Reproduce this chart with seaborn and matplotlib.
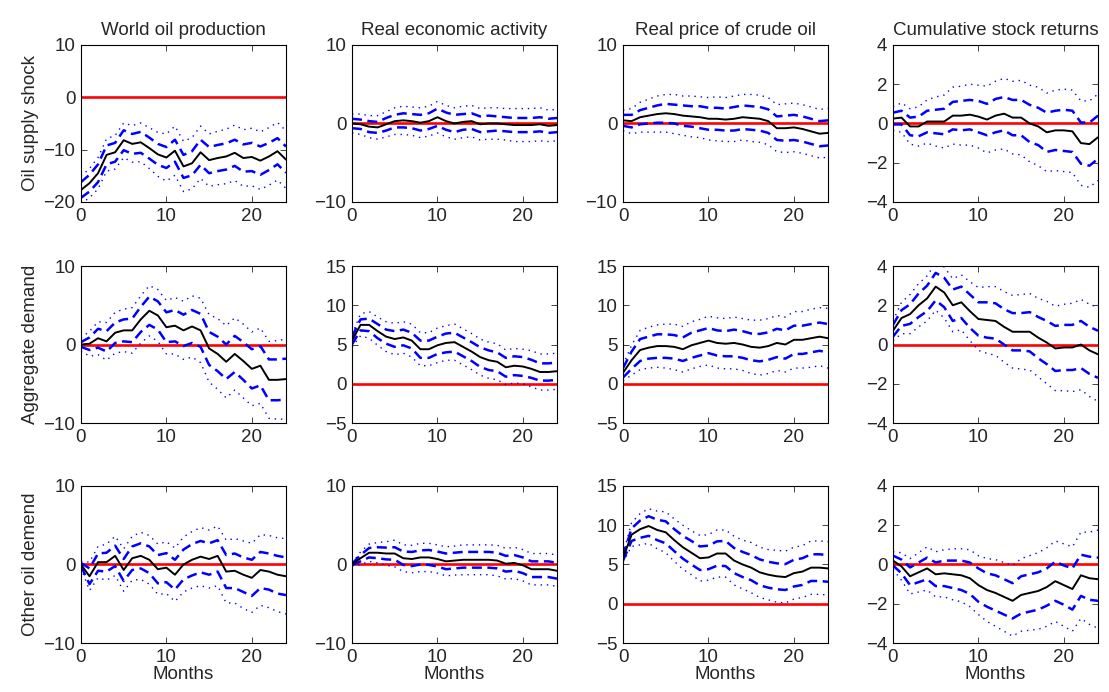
import numpy as np
import pandas as pd
import seaborn as sns
import matplotlib
matplotlib.use("Agg")
import matplotlib.pyplot as plt

# horizon
months = np.arange(25)

col_titles = ["World oil production", "Real economic activity",
              "Real price of crude oil", "Cumulative stock returns"]
row_labels = ["Oil supply shock", "Aggregate demand", "Other oil demend"]
row_ylims = [[(-20, 10), (-10, 10), (-10, 10), (-4, 4)],
             [(-10, 10), (-5, 15), (-5, 15), (-4, 4)],
             [(-10, 10), (-10, 10), (-5, 15), (-4, 4)]]

# ----- Oil supply shock -----
sup_prod = [-17.7, -16.4, -14.5, -11.0, -10.5, -8.2, -8.9, -8.6, -9.7, -10.9, -11.5, -10.2, -13.2,
            -12.6, -10.5, -12.0, -11.6, -11.3, -10.6, -11.6, -11.4, -12.1, -11.3, -10.3, -11.9]
sup_prod_d1 = [1.5, 1.6, 1.7, 1.8, 1.8, 1.9, 1.9, 2.0, 2.0, 2.0, 2.0, 2.1, 2.2,
               2.3, 2.4, 2.5, 2.5, 2.5, 2.5, 2.6, 2.7, 2.7, 2.6, 2.5, 2.5]
sup_prod_d2 = [2.6, 2.8, 3.0, 3.1, 3.2, 3.3, 3.5, 3.7, 3.9, 4.2, 4.5, 4.7, 4.8,
               4.9, 5.0, 5.0, 5.1, 5.2, 5.3, 5.4, 5.5, 5.5, 5.5, 5.5, 5.5]

sup_rea = [0.0, -0.1, -0.4, -0.5, -0.1, 0.3, 0.4, 0.3, 0.1, 0.3, 0.8, 0.3, 0.0,
           0.2, 0.3, -0.1, 0.0, 0.0, -0.1, -0.2, -0.2, -0.2, -0.1, -0.3, -0.2]
sup_rea_d1 = [0.6, 0.6, 0.7, 0.7, 0.8, 0.8, 0.9, 0.9, 1.0, 1.0, 1.1, 1.1, 1.1,
              1.0, 1.0, 1.0, 1.0, 0.9, 0.9, 0.9, 0.9, 0.9, 0.9, 0.9, 0.9]
sup_rea_d2 = [1.2, 1.3, 1.4, 1.5, 1.6, 1.7, 1.8, 1.8, 1.9, 1.9, 2.0, 2.0, 2.0,
              2.0, 2.0, 2.0, 2.0, 2.0, 2.0, 2.1, 2.1, 2.1, 2.1, 2.0, 2.0]

sup_price = [0.4, 0.3, 0.8, 1.0, 1.2, 1.3, 1.2, 1.0, 0.9, 0.8, 0.6, 0.6, 0.5,
             0.6, 0.8, 0.7, 0.6, 0.3, -0.6, -0.6, -0.5, -0.7, -1.0, -1.3, -1.2]
sup_price_d1 = [0.7, 0.8, 0.9, 1.0, 1.1, 1.2, 1.2, 1.3, 1.3, 1.4, 1.4, 1.4, 1.4,
                1.5, 1.5, 1.5, 1.5, 1.5, 1.5, 1.6, 1.6, 1.6, 1.6, 1.6, 1.6]
sup_price_d2 = [1.3, 1.6, 1.9, 2.1, 2.3, 2.4, 2.5, 2.5, 2.6, 2.6, 2.7, 2.8, 2.8,
                2.9, 2.9, 3.0, 3.0, 3.0, 3.0, 3.1, 3.1, 3.1, 3.1, 3.1, 3.1]

sup_stock = [0.25, 0.3, -0.15, -0.15, 0.1, 0.1, 0.1, 0.4, 0.4, 0.45, 0.35, 0.2, 0.4,
             0.5, 0.3, 0.3, 0.0, -0.15, -0.45, -0.35, -0.35, -0.4, -1.0, -1.05, -0.7]
sup_stock_d1 = [0.3, 0.35, 0.45, 0.5, 0.55, 0.6, 0.65, 0.7, 0.75, 0.75, 0.8, 0.8, 0.85,
                0.85, 0.9, 0.9, 0.95, 0.95, 1.0, 1.0, 1.05, 1.05, 1.05, 1.1, 1.1]
sup_stock_d2 = [0.6, 0.75, 0.9, 1.0, 1.1, 1.25, 1.35, 1.45, 1.5, 1.55, 1.6, 1.7, 1.75,
                1.8, 1.85, 1.9, 1.95, 2.0, 2.0, 2.05, 2.1, 2.1, 2.15, 2.2, 2.2]

# ----- Aggregate demand shock -----
agg_prod = [0.0, 0.1, 0.8, 0.4, 1.5, 1.8, 1.8, 3.2, 4.3, 3.7, 2.2, 2.4, 1.8,
            2.3, 1.8, -0.5, -1.2, -2.2, -1.2, -2.1, -3.1, -2.7, -4.5, -4.5, -4.4]
agg_prod_d1 = [0.3, 0.8, 1.2, 1.3, 1.3, 1.4, 1.5, 1.6, 1.8, 1.8, 1.9, 2.0, 2.0,
               2.1, 2.1, 2.1, 2.2, 2.2, 2.3, 2.4, 2.5, 2.5, 2.6, 2.6, 2.6]
agg_prod_d2 = [0.8, 1.6, 2.1, 2.4, 2.6, 2.7, 2.9, 3.0, 3.2, 3.3, 3.4, 3.6, 3.7,
               3.9, 4.1, 4.3, 4.5, 4.6, 4.6, 4.7, 4.7, 4.8, 4.9, 5.0, 5.1]

agg_rea = [5.5, 7.5, 7.5, 6.7, 6.0, 5.7, 5.9, 5.5, 4.4, 4.4, 4.9, 5.2, 5.3,
           4.7, 4.1, 3.4, 3.0, 2.8, 2.1, 2.3, 2.2, 1.9, 1.5, 1.5, 1.6]
agg_rea_d1 = [0.5, 0.7, 0.8, 0.9, 0.9, 1.0, 1.0, 1.0, 1.1, 1.1, 1.1, 1.2, 1.2,
              1.2, 1.2, 1.25, 1.25, 1.2, 1.2, 1.2, 1.2, 1.15, 1.1, 1.1, 1.1]
agg_rea_d2 = [0.8, 1.4, 1.7, 1.8, 1.9, 2.0, 2.0, 2.1, 2.1, 2.1, 2.2, 2.2, 2.3,
              2.3, 2.3, 2.3, 2.3, 2.3, 2.2, 2.2, 2.2, 2.3, 2.3, 2.3, 2.3]

agg_price = [1.4, 3.0, 4.3, 4.6, 4.8, 4.8, 4.7, 4.4, 4.9, 5.2, 5.5, 5.2, 5.1,
             5.2, 5.0, 4.7, 4.6, 4.8, 5.2, 5.0, 5.6, 5.6, 5.8, 6.0, 5.8]
agg_price_d1 = [0.6, 1.1, 1.4, 1.4, 1.5, 1.5, 1.5, 1.5, 1.6, 1.6, 1.6, 1.6, 1.6,
                1.7, 1.7, 1.7, 1.75, 1.75, 1.8, 1.8, 1.8, 1.8, 1.8, 1.8, 1.8]
agg_price_d2 = [1.0, 1.9, 2.5, 2.6, 2.7, 2.8, 2.9, 2.9, 3.0, 3.0, 3.1, 3.2, 3.2,
                3.3, 3.3, 3.4, 3.5, 3.5, 3.5, 3.5, 3.6, 3.6, 3.7, 3.7, 3.8]

agg_stock = [0.7, 1.35, 1.55, 2.0, 2.35, 2.95, 2.65, 2.0, 2.15, 1.7, 1.3, 1.25, 1.2,
             0.9, 0.65, 0.65, 0.65, 0.35, 0.1, -0.2, -0.15, -0.15, 0.0, -0.3, -0.5]
agg_stock_d1 = [0.3, 0.4, 0.5, 0.6, 0.65, 0.7, 0.75, 0.8, 0.8, 0.85, 0.85, 0.9, 0.9,
                0.9, 0.95, 0.95, 1.0, 1.05, 1.1, 1.15, 1.15, 1.15, 1.2, 1.2, 1.2]
agg_stock_d2 = [0.5, 0.8, 1.0, 1.1, 1.15, 1.2, 1.3, 1.35, 1.4, 1.5, 1.6, 1.7, 1.75,
                1.8, 1.85, 1.9, 1.95, 2.0, 2.1, 2.15, 2.2, 2.25, 2.3, 2.35, 2.4]

# ----- Other oil demand shock -----
oth_prod = [0.0, -1.5, 0.3, 0.3, 1.1, -0.7, 0.8, 1.1, 0.6, -0.6, -0.4, -1.3, 0.0,
            0.6, 1.0, 0.7, 1.1, -0.9, -0.8, -1.3, -1.7, -0.7, -0.9, -1.3, -1.5]
oth_prod_d1 = [0.2, 1.0, 1.1, 1.2, 1.3, 1.4, 1.5, 1.6, 1.7, 1.8, 1.85, 1.9, 1.9,
               2.0, 2.0, 2.0, 2.0, 2.1, 2.2, 2.2, 2.3, 2.3, 2.3, 2.4, 2.4]
oth_prod_d2 = [0.4, 1.8, 2.0, 2.3, 2.5, 2.7, 2.8, 3.0, 3.1, 3.2, 3.3, 3.4, 3.5,
               3.6, 3.7, 3.7, 3.8, 4.0, 4.1, 4.3, 4.4, 4.5, 4.6, 4.7, 4.8]

oth_rea = [0.0, 0.8, 1.5, 1.5, 1.4, 1.4, 0.8, 0.7, 0.9, 0.9, 0.7, 0.4, 0.5,
           0.6, 0.6, 0.6, 0.6, 0.5, 0.1, 0.2, -0.1, -0.6, -0.6, -0.6, -0.8]
oth_rea_d1 = [0.1, 0.4, 0.6, 0.7, 0.75, 0.8, 0.85, 0.9, 0.9, 0.95, 0.95, 1.0, 1.0,
              1.0, 1.0, 1.0, 1.0, 1.0, 1.0, 1.0, 1.0, 1.0, 1.0, 1.0, 1.0]
oth_rea_d2 = [0.2, 0.8, 1.1, 1.3, 1.5, 1.7, 1.7, 1.75, 1.8, 1.8, 1.8, 1.85, 1.85,
              1.9, 1.9, 1.9, 1.9, 1.95, 1.95, 2.0, 2.0, 2.0, 2.0, 2.0, 2.0]

oth_price = [5.8, 8.8, 9.5, 9.9, 9.4, 9.1, 8.1, 7.2, 6.5, 5.8, 5.9, 6.4, 6.4,
             5.5, 5.0, 4.6, 4.0, 3.7, 3.5, 3.4, 3.9, 4.1, 4.6, 4.6, 4.5]
oth_price_d1 = [0.3, 0.8, 1.1, 1.25, 1.3, 1.4, 1.4, 1.45, 1.5, 1.5, 1.5, 1.55, 1.6,
                1.6, 1.6, 1.6, 1.65, 1.65, 1.65, 1.65, 1.7, 1.7, 1.7, 1.7, 1.7]
oth_price_d2 = [0.5, 1.5, 2.0, 2.2, 2.4, 2.6, 2.7, 2.8, 2.8, 2.9, 2.9, 3.0, 3.0,
                3.1, 3.1, 3.2, 3.2, 3.2, 3.3, 3.3, 3.3, 3.3, 3.4, 3.4, 3.4]

oth_stock = [0.2, -0.1, -0.6, -0.4, -0.2, -0.5, -0.45, -0.5, -0.55, -0.7, -1.05, -1.3, -1.45,
             -1.65, -1.85, -1.55, -1.45, -1.35, -1.15, -0.85, -1.05, -1.25, -0.55, -0.7, -0.75]
oth_stock_d1 = [0.25, 0.35, 0.45, 0.5, 0.55, 0.6, 0.65, 0.7, 0.75, 0.8, 0.85, 0.85, 0.9,
                0.9, 0.9, 0.95, 0.95, 0.95, 0.95, 1.0, 1.0, 1.05, 1.05, 1.1, 1.1]
oth_stock_d2 = [0.45, 0.7, 0.9, 1.0, 1.1, 1.15, 1.2, 1.3, 1.35, 1.45, 1.5, 1.6, 1.7,
                1.75, 1.8, 1.85, 1.9, 1.95, 2.0, 2.05, 2.1, 2.15, 2.2, 2.35, 2.5]

panels = [[(sup_prod, sup_prod_d1, sup_prod_d2), (sup_rea, sup_rea_d1, sup_rea_d2),
           (sup_price, sup_price_d1, sup_price_d2), (sup_stock, sup_stock_d1, sup_stock_d2)],
          [(agg_prod, agg_prod_d1, agg_prod_d2), (agg_rea, agg_rea_d1, agg_rea_d2),
           (agg_price, agg_price_d1, agg_price_d2), (agg_stock, agg_stock_d1, agg_stock_d2)],
          [(oth_prod, oth_prod_d1, oth_prod_d2), (oth_rea, oth_rea_d1, oth_rea_d2),
           (oth_price, oth_price_d1, oth_price_d2), (oth_stock, oth_stock_d1, oth_stock_d2)]]

sns.set_style("ticks")
plt.rcParams['font.family'] = ['Liberation Sans', 'DejaVu Sans']
plt.rcParams['xtick.direction'] = 'in'
plt.rcParams['ytick.direction'] = 'in'
plt.rcParams['xtick.top'] = True
plt.rcParams['ytick.right'] = True

fig = plt.figure(figsize=(11.09, 6.92), dpi=100)

lefts = [0.073, 0.3174, 0.5618, 0.8052]
bottoms = [0.7081, 0.3887, 0.0708]
w, h = 0.1849, 0.2269
fs = 13.5

for r in range(3):
    for c in range(4):
        ax = fig.add_axes([lefts[c], bottoms[r], w, h])
        mean, d1, d2 = [np.array(a) for a in panels[r][c]]
        df = pd.DataFrame({'m': months, 'irf': mean,
                           'up1': mean + d1, 'lo1': mean - d1,
                           'up2': mean + d2, 'lo2': mean - d2})
        ax.axhline(0, color='red', lw=1.9, zorder=1)
        for col in ['up2', 'lo2']:
            sns.lineplot(data=df, x='m', y=col, ax=ax, color='blue', lw=1.0,
                         linestyle=(0, (1, 3.5)))
        for col in ['up1', 'lo1']:
            sns.lineplot(data=df, x='m', y=col, ax=ax, color='blue', lw=1.8,
                         linestyle=(0, (4, 2.2)))
        sns.lineplot(data=df, x='m', y='irf', ax=ax, color='black', lw=1.4)

        ax.set_xlim(0, 24)
        ax.set_ylim(*row_ylims[r][c])
        ax.set_xticks([0, 10, 20])
        lo, hi = row_ylims[r][c]
        step = 2 if hi - lo == 8 else (5 if lo == -5 else 10)
        ax.set_yticks(np.arange(lo, hi + 0.1, step))
        ax.tick_params(labelsize=fs, length=4, width=0.6)
        ax.tick_params(axis='x', pad=4)
        ax.tick_params(axis='y', pad=4)
        for s in ax.spines.values():
            s.set_linewidth(0.8)
            s.set_color('black')
        ax.set_xlabel('Months' if r == 2 else '', fontsize=fs, labelpad=0)
        ax.set_ylabel(row_labels[r] if c == 0 else '', fontsize=fs, labelpad=3)
        if r == 0:
            ax.set_title(col_titles[c], fontsize=fs, pad=7)

fig.savefig('out.png', dpi=100, facecolor='white')
